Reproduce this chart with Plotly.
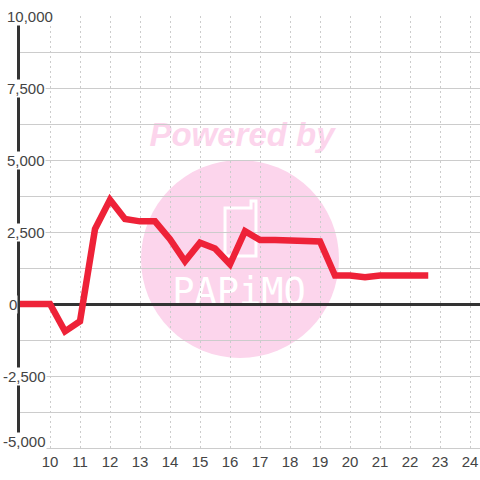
import plotly.graph_objects as go

hours = [9, 9.5, 10, 10.5, 11, 11.5, 12, 12.5, 13, 13.5, 14, 14.5, 15, 15.5, 16, 16.5, 17, 17.5, 18, 18.5, 19, 19.5, 20, 20.5, 21, 21.5, 22, 22.5]
values = [0, 0, 0, -950, -600, 2600, 3620, 2950, 2870, 2870, 2250, 1480, 2130, 1930, 1380, 2530, 2220, 2220, 2220, 2220, 2170, 990, 990, 930, 990, 990, 990, 990]
x_ticks = list(range(10, 25))
y_grid = [-5000, -3750, -2500, -1250, 0, 1250, 2500, 3750, 5000, 6250, 7500, 8750, 10000]
y_labels = [10000, 7500, 5000, 2500, 0, -2500, -5000]

PINK = "#fcd5ec"
TEXT = "#444444"
GRID = "#cccccc"
W, H = 480, 480

fig = go.Figure(go.Scatter(x=hours, y=values, mode="lines", hoverinfo="skip",
                           line=dict(color="#ee2238", width=6.5, shape="linear")))

def dom_x(p): return (p - 20) / 460
def dom_y(p): return (448 - p) / 432

def label_shape(text, x0, x1, y0, y1, family, size, color, bold=False):
    return dict(type="rect", xref="x domain", yref="y domain", layer="below",
                x0=x0, x1=x1, y0=y0, y1=y1, line_width=0, fillcolor="rgba(0,0,0,0)",
                label=dict(text=text, textposition="middle center",
                           font=dict(family=family, size=size, color=color,
                                     weight="bold" if bold else "normal",
                                     style="italic" if bold else "normal")))

phone = [(225, 208), (251, 208), (251, 201), (256, 201), (256, 256), (225, 256)]
phone_path = "M " + " L ".join(f"{dom_x(a):.4f},{dom_y(b):.4f}" for a, b in phone) + " Z"

shapes = [
    dict(type="circle", xref="x domain", yref="y domain", layer="below",
         x0=dom_x(141), x1=dom_x(339), y0=dom_y(358), y1=dom_y(160), fillcolor=PINK, line_width=0),
    label_shape("Powered by", dom_x(130), dom_x(354), dom_y(148), dom_y(114), "Liberation Sans", 33, PINK, True),
    label_shape("PAPiMO", dom_x(160), dom_x(318), dom_y(305), dom_y(271), "DejaVu Sans Mono", 37, "#ffffff"),
    dict(type="path", xref="x domain", yref="y domain", layer="below", path=phone_path,
         line=dict(color="#ffffff", width=3), fillcolor="rgba(0,0,0,0)"),
]

annotations = []
for v in y_labels:
    left = 2 if v < 0 else (8 if v == 0 else 6)
    annotations.append(dict(
        xref="paper", yref="y", x=0, y=v, xanchor="left", yanchor="middle",
        xshift=left - 20, yshift=7 if v == -5000 else 0, text=f"{v:,}", showarrow=False,
        bgcolor="#ffffff", borderpad=0,
        font=dict(family="Liberation Sans", size=15, color=TEXT)))

fig.update_layout(
    width=W, height=H, autosize=False,
    margin=dict(l=20, r=0, t=16, b=32, pad=0),
    paper_bgcolor="#ffffff", plot_bgcolor="rgba(0,0,0,0)",
    showlegend=False, shapes=shapes, annotations=annotations,
    font=dict(family="Liberation Sans", size=15, color=TEXT),
    xaxis=dict(range=[9, 24.3333], tickmode="array", tickvals=x_ticks, ticktext=[str(t) for t in x_ticks],
               showgrid=True, gridcolor=GRID, griddash="2px,3px", gridwidth=1,
               zeroline=False, showline=True, linecolor=GRID, linewidth=1, ticks="", ticklen=0),
    yaxis=dict(range=[-5000, 10000], tickmode="array", tickvals=y_grid, showticklabels=False,
               showgrid=True, gridcolor=GRID, gridwidth=1,
               zeroline=True, zerolinecolor="#333333", zerolinewidth=3,
               showline=True, linecolor="#333333", linewidth=3, ticks=""),
)
post = """
document.documentElement.style.overflow='hidden';
document.body.style.margin='0';
document.querySelectorAll('.js-line').forEach(function(p){
  p.style.strokeLinejoin='miter'; p.style.strokeLinecap='square';
});
"""
fig.write_html("out.html", config=dict(displayModeBar=False), post_script=post)
